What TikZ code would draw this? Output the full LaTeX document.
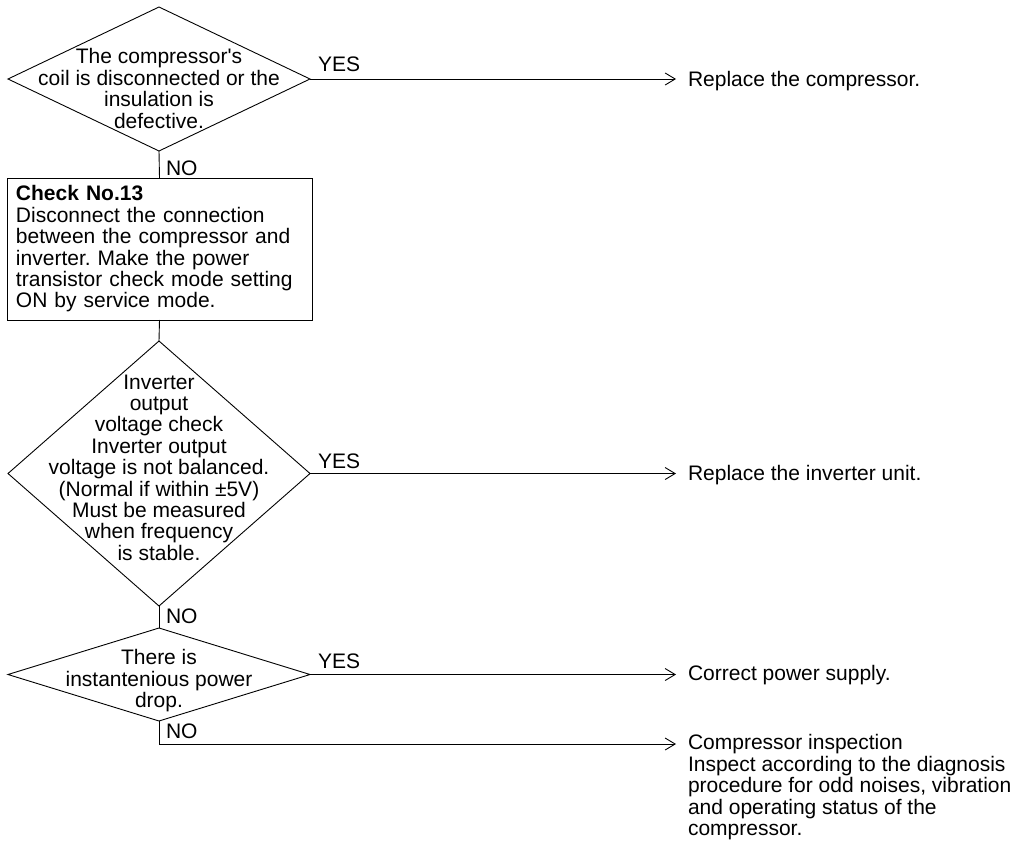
\documentclass[tikz,border=0pt]{standalone}
\usepackage{fontspec}
\setmainfont{Liberation Sans}
\newfontfamily\aposfont[Ligatures=TeXOff]{Liberation Sans}
\usetikzlibrary{shapes.geometric,arrows.meta}
\frenchspacing
\begin{document}
\begin{tikzpicture}[x=1pt,y=-1pt,
  every node/.style={font=\fontsize{21}{21.4}\selectfont, inner sep=0pt, outer sep=0pt},
  line/.style={line width=0.9pt},
  arr/.style={line width=0.9pt, -{Straight Barb[length=10pt,width=12pt]}},
  dia/.style={draw, line width=0.9pt, shape=diamond, minimum width=302pt},
  dtext/.style={align=center, anchor=north},
  res/.style={anchor=base west, align=left, inner xsep=12pt},
  lab/.style={anchor=base west}
]
\useasboundingbox (0,0) rectangle (1026,841);

% decision 1
\node[dia, minimum height=144pt] (d1) at (159,79) {};
\node[dtext] (d1t) at (159,48.7) {The compressor{\aposfont\char"0027}s\\coil is disconnected or the\\insulation is\\defective.};

% check box
\node[draw, line width=0.9pt, anchor=north west, text width=287pt, inner xsep=9pt, inner ysep=0pt,
      minimum height=142pt, align=left] (box) at (7,178)
  {\textbf{Check No.13}\\Disconnect the connection\\between the compressor and\\inverter. Make the power\\transistor check mode setting\\ON by service mode.};

% decision 2
\node[dia, minimum height=265pt] (d2) at (159,473.5) {};
\node[dtext] (d2t) at (159,374.7) {Inverter\\output\\voltage check\\Inverter output\\voltage is not balanced.\\(Normal if within ±5V)\\Must be measured\\when frequency\\is stable.};

% decision 3
\node[dia, minimum height=93pt] (d3) at (159,674.5) {};
\node[dtext] (d3t) at (159,649.7) {There is\\instantenious power\\drop.};

% results
\node[res] (r1) at (676,86.5) {Replace the compressor.};
\node[res] (r2) at (676,480.5) {Replace the inverter unit.};
\node[res] (r3) at (676,680.5) {Correct power supply.};
\node[res, anchor=north west] (r4) at (676,734.7) {Compressor inspection\\Inspect according to the diagnosis\\procedure for odd noises, vibration\\and operating status of the\\compressor.};
\coordinate (a4) at (676,744);

% labels
\node[lab] (no1) at (166,175) {NO};
\node[lab] (no2) at (166,623) {NO};
\node[lab] (no3) at (166,738) {NO};
\node[lab] (yes1) at (318,71) {YES};
\node[lab] (yes2) at (318,468) {YES};
\node[lab] (yes3) at (318,668) {YES};

% connectors
\draw[line] (d1.south) -- (box.north);
\draw[line] (box.south) -- (d2.north);
\draw[line] (d2.south) -- (d3.north);
\draw[arr] (d1.east) -- (d1.east -| r1.west);
\draw[arr] (d2.east) -- (d2.east -| r2.west);
\draw[arr] (d3.east) -- (d3.east -| r3.west);
\draw[arr] (d3.south) |- (a4);
\end{tikzpicture}
\end{document}
